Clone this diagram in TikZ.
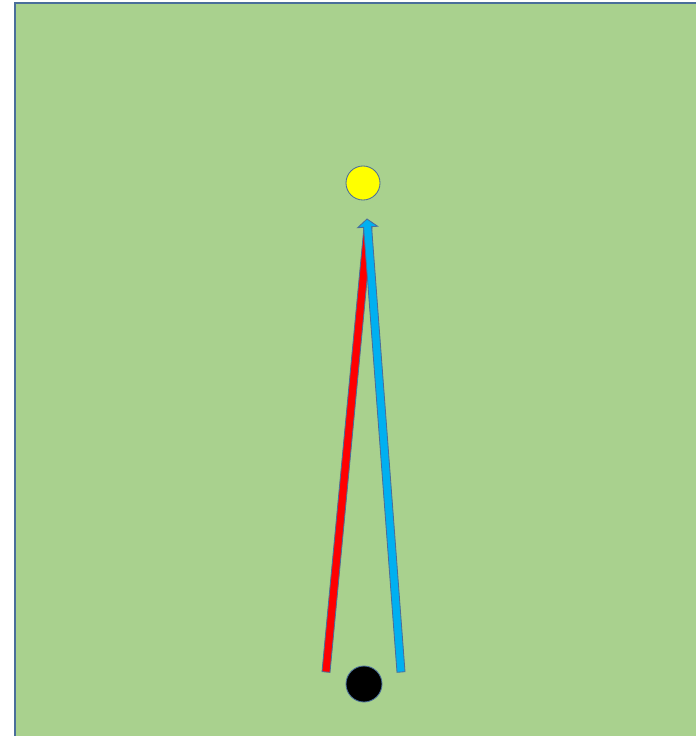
\documentclass[tikz,border=0pt]{standalone}
\usepackage{tikz}
\usepackage{xcolor}
\usetikzlibrary{calc}
\definecolor{Field}{HTML}{A9D18E}
\definecolor{Edge}{HTML}{4A6E9A}
\definecolor{Sun}{HTML}{FFFF00}
\definecolor{Ball}{HTML}{000000}
\definecolor{Ray}{HTML}{FF0000}
\definecolor{Sky}{HTML}{00B0F0}
\tikzset{
  field/.style={draw=Edge,fill=Field,line width=0.9pt},
  disc/.style={circle,draw=Edge,line width=0.6pt,inner sep=0pt},
  bar/.style={draw=Edge,line width=0.6pt,line join=miter}
}

\begin{document}
\begin{tikzpicture}[x=0.025cm,y=-0.025cm]
  \useasboundingbox (0,0) rectangle (696,736);
  \clip (0,0) rectangle (696,736);
  \draw[field] (15,3) rectangle (710,750);
  % end points of the two rays
  \coordinate (rs) at (326,672);
  \coordinate (re) at (368,227);
  \coordinate (bs) at (401,672);
  \coordinate (bt) at (367,219);
  \coordinate (bh) at ($(bt)!0.2cm!(bs)$);
  \node[disc,fill=Sun,minimum size=0.85cm] (sun) at (363,183) {};
  \node[disc,fill=Ball,minimum size=0.9cm] (ball) at (364,684) {};
  % red ray
  \draw[bar,fill=Ray] ($(rs)!0.1cm!90:(re)$) -- ($(re)!0.1cm!-90:(rs)$)
    -- ($(re)!0.1cm!90:(rs)$) -- ($(rs)!0.1cm!-90:(re)$) -- cycle;
  % blue ray with head
  \draw[bar,fill=Sky] ($(bs)!0.1cm!90:(bt)$) -- ($(bh)!0.1cm!90:(bt)$)
    -- ($(bh)!0.25cm!90:(bt)$) -- (bt) -- ($(bh)!0.25cm!-90:(bt)$)
    -- ($(bh)!0.1cm!-90:(bt)$) -- ($(bs)!0.1cm!-90:(bt)$) -- cycle;
\end{tikzpicture}
\end{document}
